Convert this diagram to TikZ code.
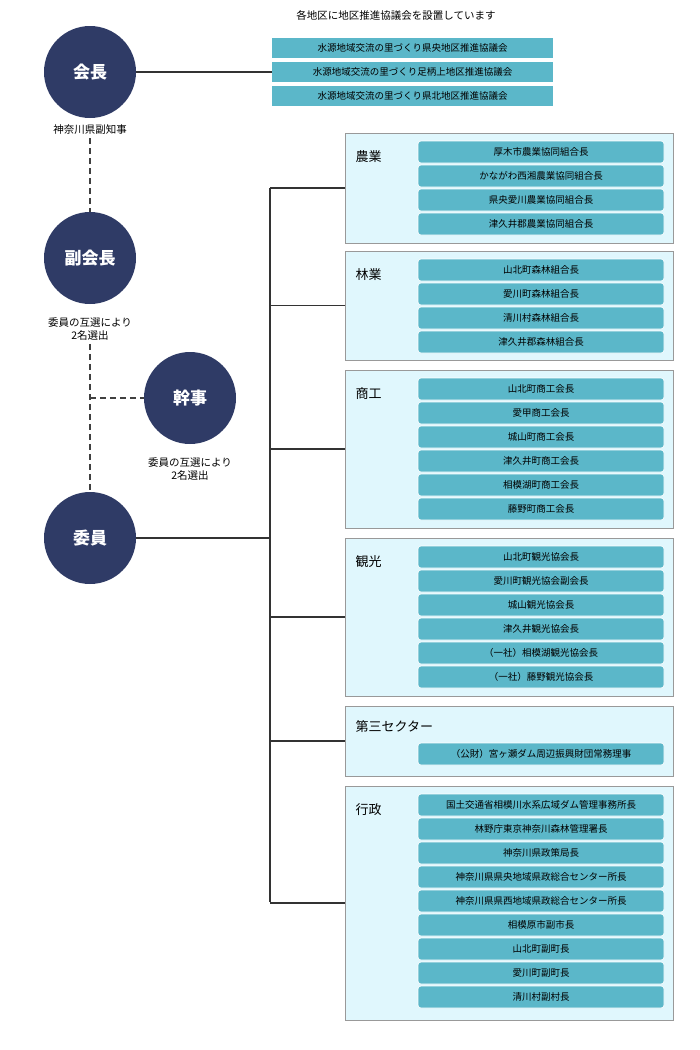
\documentclass[tikz,border=0pt]{standalone}
\usepackage{fontspec}
\newfontfamily\cjk{Noto Sans CJK JP}
\begin{document}
\begin{tikzpicture}[x=1pt,y=-1pt,font=\cjk,
 circ/.style={circle,fill=navy,minimum size=92pt,inner sep=0pt,text=white,font=\cjk\bfseries\fontsize{17}{17}\selectfont},
 lab/.style={font=\cjk\fontsize{10.5}{13}\selectfont,align=center},
 grp/.style={draw=gray!80,fill=boxbg,line width=0.8pt},
 row/.style={fill=rowc,rounded corners=3pt,minimum width=246pt,minimum height=22pt,inner sep=0pt,font=\cjk\fontsize{9.5}{10}\selectfont,draw=white,line width=0.6pt},
 top/.style={fill=rowc,minimum width=281pt,minimum height=20pt,inner sep=0pt,font=\cjk\fontsize{9.5}{10}\selectfont},
 ttl/.style={anchor=west,font=\cjk\fontsize{13}{13}\selectfont},
 ln/.style={line width=1.6pt,draw=black!80},
 dsh/.style={line width=1.6pt,draw=black!75,dash pattern=on 6pt off 4pt}]
\definecolor{navy}{HTML}{2F3B66}
\definecolor{boxbg}{HTML}{E0F7FD}
\definecolor{rowc}{HTML}{5BB7C9}
\useasboundingbox (0,0) rectangle (700,1050);
% circles
\node[circ] (kaicho) at (90,72) {会長};
\node[circ] (fuku) at (90,258) {副会長};
\node[circ] (kanji) at (190,398) {幹事};
\node[circ] (iin) at (90,538) {委員};
\node[lab] (l1) at (90,130) {神奈川県副知事};
\node[lab] (l2) at (90,329) {委員の互選により\\2名選出};
\node[lab] (l3) at (190,469) {委員の互選により\\2名選出};
\draw[dsh] (l1.south) -- (fuku.north);
\draw[dsh] (l2.south) -- (iin.north);
\coordinate (dj) at (90,398);
\draw[dsh] (dj) -- (kanji.west);
% top
\node[font=\cjk\fontsize{10.5}{11}\selectfont] (tt) at (396,16) {各地区に地区推進協議会を設置しています};
\node[top] (t1) at (412.5,48) {水源地域交流の里づくり県央地区推進協議会};
\node[top] (t2) at (412.5,72) {水源地域交流の里づくり足柄上地区推進協議会};
\node[top] (t3) at (412.5,96) {水源地域交流の里づくり県北地区推進協議会};
\draw[ln] (kaicho.east) -- (t2.west);
% groups
\newcommand\grp[5]{% name, top, bottom, title, rows
 \path[grp] (345,#2) rectangle (673,#3);
 \node[ttl] (#1t) at (352,{#2+24}) {#4};
 \coordinate (#1) at (345,{(#2+#3)/2});
 \foreach \s [count=\i] in {#5} {\node[row] at (541,{#2+19+(\i-1)*24}) {\s};}
}
\grp{g1}{133}{243}{農業}{厚木市農業協同組合長,かながわ西湘農業協同組合長,県央愛川農業協同組合長,津久井郡農業協同組合長}
\grp{g2}{251}{360}{林業}{山北町森林組合長,愛川町森林組合長,清川村森林組合長,津久井郡森林組合長}
\grp{g3}{370}{528}{商工}{山北町商工会長,愛甲商工会長,城山町商工会長,津久井町商工会長,相模湖町商工会長,藤野町商工会長}
\grp{g4}{538}{696}{観光}{山北町観光協会長,愛川町観光協会副会長,城山観光協会長,津久井観光協会長,（一社）相模湖観光協会長,（一社）藤野観光協会長}
\path[grp] (345,706) rectangle (673,776);
\node[ttl] (g5t) at (352,727) {第三セクター};
\coordinate (g5) at (345,741);
\node[row] at (541,754) {（公財）宮ヶ瀬ダム周辺振興財団常務理事};
\grp{g6}{786}{1020}{行政}{国土交通省相模川水系広域ダム管理事務所長,林野庁東京神奈川森林管理署長,神奈川県政策局長,神奈川県県央地域県政総合センター所長,神奈川県県西地域県政総合センター所長,相模原市副市長,山北町副町長,愛川町副町長,清川村副村長}
% trunk
\coordinate (a1) at (270,188);
\coordinate (a6) at (270,902);
\coordinate (aj) at (270,538);
\draw[ln] (a1) -- (a6);
\draw[ln] (iin.east) -- (aj);
\draw[ln] (270,188) -- (g1);
\draw[ln] (270,305.5) -- (g2);
\draw[ln] (270,449) -- (g3);
\draw[ln] (270,617) -- (g4);
\draw[ln] (270,741) -- (g5);
\draw[ln] (270,903) -- (g6);
\end{tikzpicture}
\end{document}
